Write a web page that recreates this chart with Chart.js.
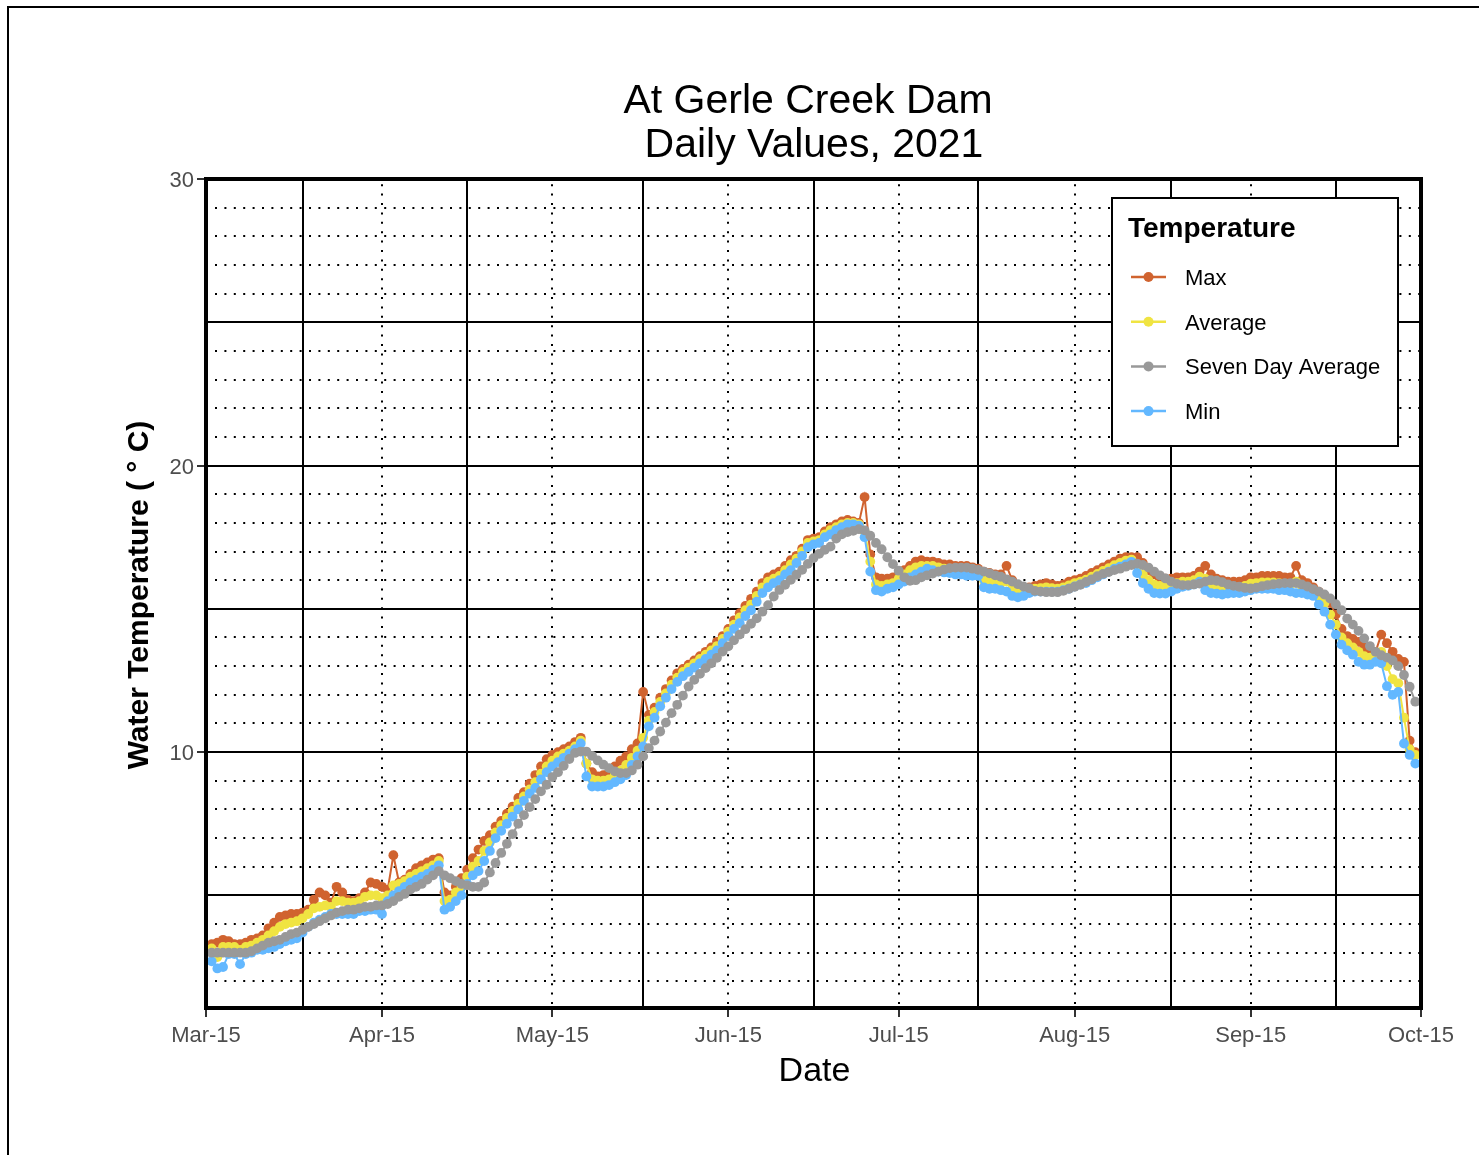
<!DOCTYPE html>
<html>
<head>
<meta charset="utf-8">
<title>At Gerle Creek Dam - Daily Values, 2021</title>
<script src="https://cdn.jsdelivr.net/npm/chart.js@4.4.1/dist/chart.umd.min.js"></script>
<style>
  html, body { margin: 0; padding: 0; background: #fff; }
  canvas { display: block; }
</style>
</head>
<body>
<canvas id="tempChart" width="1479" height="1155"></canvas>
<script>
// water temperature, one value per day, day 1 = 16 Mar 2021
const maxTemp = [
  3.3, 3.35, 3.45, 3.4, 3.3, 3.3, 3.35, 3.45, 3.5, 3.6,
  3.85, 4.05, 4.25, 4.3, 4.35, 4.35, 4.4, 4.5, 4.85, 5.1,
  5.0, 4.75, 5.3, 5.1, 4.85, 4.8, 4.9, 5.1, 5.45, 5.4,
  5.3, 5.2, 6.4, 5.45, 5.55, 5.75, 5.95, 6.05, 6.15, 6.25,
  6.3, 5.1, 5.0, 5.3, 5.6, 5.9, 6.3, 6.6, 6.9, 7.1,
  7.4, 7.6, 7.85, 8.1, 8.4, 8.6, 8.9, 9.2, 9.5, 9.75,
  9.9, 10.0, 10.1, 10.2, 10.35, 10.5, 9.6, 9.3, 9.15, 9.2,
  9.3, 9.5, 9.7, 9.85, 10.1, 10.3, 12.1, 11.3, 11.55, 11.9,
  12.2, 12.5, 12.75, 12.9, 13.05, 13.2, 13.35, 13.5, 13.65, 13.85,
  14.05, 14.3, 14.6, 14.85, 15.1, 15.35, 15.6, 15.9, 16.1, 16.2,
  16.3, 16.5, 16.7, 16.85, 17.1, 17.4, 17.45, 17.5, 17.7, 17.85,
  17.95, 18.05, 18.1, 18.05, 18.0, 18.9, 16.9, 16.1, 16.05, 16.05,
  16.1, 16.2, 16.35, 16.5, 16.65, 16.7, 16.65, 16.65, 16.6, 16.55,
  16.55, 16.5, 16.5, 16.5, 16.45, 16.4, 16.3, 16.25, 16.2, 16.2,
  16.5, 16.0, 15.8, 15.7, 15.75, 15.8, 15.85, 15.9, 15.85, 15.8,
  15.85, 15.95, 16.0, 16.05, 16.15, 16.25, 16.35, 16.45, 16.55, 16.65,
  16.75, 16.8, 16.8, 16.8, 16.6, 16.35, 16.2, 16.05, 16.05, 16.05,
  16.1, 16.1, 16.1, 16.15, 16.3, 16.5, 16.2, 16.05, 16.0, 15.95,
  15.95, 15.95, 16.0, 16.1, 16.1, 16.15, 16.15, 16.15, 16.15, 16.1,
  16.1, 16.5, 16.0, 15.9, 15.75, 15.6, 15.4, 15.2, 14.8, 14.3,
  14.05, 13.95, 13.85, 13.65, 13.55, 13.5, 14.1, 13.8, 13.5, 13.25,
  13.15, 10.4, 10.0
];

const avgTemp = [
  3.15, 2.85, 3.2, 3.2, 3.2, 3.1, 3.2, 3.25, 3.35, 3.45,
  3.6, 3.75, 3.9, 4.0, 4.05, 4.1, 4.2, 4.35, 4.55, 4.6,
  4.65, 4.6, 4.8, 4.8, 4.75, 4.75, 4.8, 4.95, 5.0, 5.0,
  4.9, 5.0, 5.35, 5.4, 5.5, 5.65, 5.75, 5.85, 5.95, 6.05,
  6.2, 4.8, 4.85, 5.1, 5.3, 5.65, 6.0, 6.2, 6.55, 6.85,
  7.2, 7.45, 7.7, 7.95, 8.2, 8.45, 8.7, 8.95, 9.25, 9.5,
  9.7, 9.85, 9.95, 10.05, 10.2, 10.4, 9.6, 9.05, 9.0, 9.0,
  9.05, 9.2, 9.35, 9.55, 9.8, 10.05, 10.5, 11.1, 11.4, 11.75,
  12.05, 12.35, 12.6, 12.8, 12.95, 13.1, 13.25, 13.4, 13.55, 13.7,
  13.95, 14.2, 14.45, 14.7, 14.95, 15.15, 15.45, 15.75, 15.95, 16.05,
  16.15, 16.35, 16.55, 16.75, 17.0, 17.3, 17.35, 17.4, 17.6, 17.75,
  17.85, 17.95, 18.0, 18.0, 17.95, 17.7, 16.65, 15.85, 15.8, 15.85,
  15.9, 16.05, 16.2, 16.35, 16.45, 16.5, 16.5, 16.5, 16.45, 16.4,
  16.4, 16.35, 16.35, 16.3, 16.3, 16.25, 16.0, 15.95, 15.9, 15.9,
  15.95, 15.7, 15.6, 15.6, 15.65, 15.7, 15.72, 15.75, 15.72, 15.7,
  15.75, 15.82, 15.9, 15.95, 16.02, 16.12, 16.22, 16.32, 16.42, 16.52,
  16.6, 16.68, 16.72, 16.55, 16.2, 16.0, 15.85, 15.8, 15.8, 15.83,
  15.9, 15.95, 15.95, 16.0, 16.12, 16.05, 15.85, 15.78, 15.72, 15.72,
  15.75, 15.75, 15.8, 15.88, 15.9, 15.92, 15.92, 15.92, 15.9, 15.88,
  15.85, 15.95, 15.8, 15.7, 15.6, 15.4, 15.2, 14.8, 14.45, 14.0,
  13.8, 13.65, 13.5, 13.35, 13.3, 13.3, 13.5, 13.0, 12.55, 12.4,
  11.2, 10.1, 9.9
];

const sevenDayAvg = [
  3.0, 3.0, 3.0, 3.0, 3.0, 3.0, 3.0, 3.05, 3.15, 3.25,
  3.35, 3.4, 3.45, 3.55, 3.65, 3.7, 3.8, 3.9, 4.0, 4.1,
  4.2, 4.3, 4.4, 4.45, 4.5, 4.5, 4.55, 4.6, 4.6, 4.65,
  4.65, 4.7, 4.8, 4.95, 5.05, 5.2, 5.3, 5.4, 5.55, 5.7,
  5.85, 5.7, 5.6, 5.5, 5.4, 5.35, 5.3, 5.3, 5.45, 5.8,
  6.13, 6.48, 6.8, 7.14, 7.5, 7.8, 8.08, 8.36, 8.63, 8.86,
  9.13, 9.3, 9.52, 9.76, 9.97, 10.02, 10.02, 9.87, 9.71, 9.56,
  9.44, 9.33, 9.27, 9.27, 9.36, 9.56, 9.85, 10.14, 10.4, 10.72,
  11.03, 11.36, 11.65, 11.97, 12.29, 12.52, 12.73, 12.93, 13.1, 13.29,
  13.51, 13.69, 13.9, 14.1, 14.29, 14.48, 14.67, 14.9, 15.13, 15.43,
  15.66, 15.84, 16.01, 16.19, 16.36, 16.57, 16.77, 16.92, 17.06, 17.17,
  17.45, 17.6, 17.68, 17.72, 17.78, 17.74, 17.55, 17.3, 17.08, 16.8,
  16.56, 16.33, 16.1, 15.98, 16.0, 16.1, 16.17, 16.23, 16.3, 16.37,
  16.42, 16.44, 16.44, 16.44, 16.4, 16.36, 16.3, 16.24, 16.17, 16.12,
  16.03, 15.95, 15.86, 15.78, 15.72, 15.63, 15.6, 15.58, 15.58, 15.58,
  15.63, 15.7, 15.77, 15.84, 15.94, 16.03, 16.14, 16.22, 16.28, 16.35,
  16.4, 16.47, 16.53, 16.58, 16.53, 16.44, 16.3, 16.17, 16.06, 15.95,
  15.87, 15.83, 15.83, 15.85, 15.88, 15.95, 16.0, 15.98, 15.93, 15.85,
  15.8, 15.77, 15.73, 15.71, 15.74, 15.79, 15.83, 15.86, 15.88, 15.9,
  15.9, 15.9, 15.85, 15.78, 15.69, 15.6, 15.5, 15.36, 15.16, 14.95,
  14.66, 14.45, 14.23, 13.97, 13.7, 13.5, 13.38, 13.3, 13.2, 13.0,
  12.69, 12.28, 11.76
];

const minTemp = [
  2.7, 2.45, 2.5, 2.95, 2.95, 2.6, 2.95, 3.0, 3.1, 3.1,
  3.15, 3.2, 3.3, 3.4, 3.45, 3.5, 3.7, 3.9, 4.05, 4.15,
  4.25, 4.35, 4.35, 4.35, 4.35, 4.35, 4.45, 4.45, 4.5, 4.5,
  4.35, 4.8, 5.0, 5.15, 5.3, 5.45, 5.55, 5.65, 5.75, 5.9,
  6.05, 4.5, 4.6, 4.8, 5.0, 5.4, 5.7, 5.85, 6.2, 6.55,
  7.0, 7.25, 7.5, 7.75, 8.0, 8.3, 8.55, 8.75, 9.05, 9.3,
  9.5, 9.65, 9.8, 9.95, 10.1, 10.3, 9.15, 8.8, 8.8, 8.8,
  8.85, 8.95, 9.05, 9.2, 9.55, 9.85, 10.2, 10.9, 11.2, 11.6,
  11.9, 12.2, 12.45, 12.65, 12.8, 12.95, 13.1, 13.25, 13.4, 13.55,
  13.8, 14.05, 14.3, 14.5, 14.75, 14.95, 15.25, 15.55, 15.75, 15.9,
  16.0, 16.2, 16.35, 16.6, 16.85, 17.15, 17.25, 17.3, 17.5, 17.6,
  17.75, 17.85, 17.95, 17.95, 17.9, 17.5, 16.3, 15.65, 15.6, 15.7,
  15.75, 15.85, 15.95, 16.1, 16.2, 16.3, 16.4, 16.35, 16.3, 16.27,
  16.25, 16.2, 16.2, 16.15, 16.15, 16.15, 15.75, 15.7, 15.7, 15.65,
  15.6, 15.45, 15.4, 15.45, 15.55, 15.6, 15.6, 15.6, 15.6, 15.6,
  15.65, 15.7, 15.78, 15.85, 15.9, 16.0, 16.1, 16.2, 16.3, 16.4,
  16.47, 16.55, 16.64, 16.25, 15.9, 15.7, 15.55, 15.53, 15.53, 15.6,
  15.7, 15.77, 15.8, 15.85, 15.95, 15.65, 15.55, 15.53, 15.5, 15.53,
  15.55, 15.55, 15.6, 15.65, 15.7, 15.7, 15.7, 15.7, 15.65, 15.65,
  15.6, 15.55, 15.55, 15.5, 15.45, 15.15, 14.9, 14.45, 14.1, 13.75,
  13.55, 13.4, 13.15, 13.05, 13.05, 13.15, 13.1, 12.3, 12.0, 12.1,
  10.3, 9.9, 9.6
];

// x axis: days after 15 Mar 2021
const xTickDays = [0, 31, 61, 92, 122, 153, 184, 214];
const xTickLabels = ['Mar-15', 'Apr-15', 'May-15', 'Jun-15', 'Jul-15', 'Aug-15', 'Sep-15', 'Oct-15'];
const xSolidDays = [17, 46, 77, 107, 136, 170, 199];
const yTickValues = [10, 20, 30];
const ySolidValues = [5, 10, 15, 20, 25];

const FONT = '"Liberation Sans", Arial, Helvetica, sans-serif';

function toPoints(arr) {
  return arr.map((v, i) => ({ x: i + 1, y: v }));
}

function series(label, arr, color, order) {
  return {
    label: label,
    data: toPoints(arr),
    borderColor: color,
    backgroundColor: color,
    pointBackgroundColor: color,
    pointBorderWidth: 0,
    pointRadius: 4.9,
    borderWidth: 2,
    tension: 0,
    order: order
  };
}

// grid, frame, labels, legend
const ggDecor = {
  id: 'ggDecor',
  beforeDatasetsDraw(chart) {
    const { ctx, chartArea: a, scales: { x, y } } = chart;
    ctx.save();
    ctx.strokeStyle = '#000';
    ctx.lineWidth = 2;
    ctx.lineCap = 'butt';

    // dotted lines, every degree and the labelled dates
    ctx.setLineDash([2, 7.4]);
    ctx.beginPath();
    for (let v = 2; v < 30; v++) {
      if (v % 5 === 0) continue;
      const py = Math.round(y.getPixelForValue(v));
      ctx.moveTo(a.left + 9, py);
      ctx.lineTo(a.right, py);
    }
    xTickDays.slice(1, -1).forEach(d => {
      const px = Math.round(x.getPixelForValue(d));
      ctx.moveTo(px, a.bottom - 4);
      ctx.lineTo(px, a.top);
    });
    ctx.stroke();

    // solid lines
    ctx.setLineDash([]);
    ctx.beginPath();
    ySolidValues.forEach(v => {
      const py = Math.round(y.getPixelForValue(v));
      ctx.moveTo(a.left, py);
      ctx.lineTo(a.right, py);
    });
    xSolidDays.forEach(d => {
      const px = Math.round(x.getPixelForValue(d));
      ctx.moveTo(px, a.top);
      ctx.lineTo(px, a.bottom);
    });
    ctx.stroke();
    ctx.restore();
  },
  afterDraw(chart) {
    const { ctx, chartArea: a, scales: { x, y } } = chart;
    ctx.save();

    // outer picture border (top and left only)
    ctx.strokeStyle = '#000';
    ctx.lineWidth = 2;
    ctx.beginPath();
    ctx.moveTo(8, chart.height + 5);
    ctx.lineTo(8, 7);
    ctx.lineTo(chart.width + 5, 7);
    ctx.stroke();

    // panel frame
    ctx.lineWidth = 4;
    ctx.strokeRect(a.left, a.top, a.right - a.left, a.bottom - a.top);

    // tick marks
    ctx.strokeStyle = '#333';
    ctx.lineWidth = 2;
    ctx.beginPath();
    xTickDays.forEach(d => {
      const px = Math.round(x.getPixelForValue(d));
      ctx.moveTo(px, a.bottom + 2);
      ctx.lineTo(px, a.bottom + 9);
    });
    yTickValues.forEach(v => {
      const py = Math.round(y.getPixelForValue(v));
      ctx.moveTo(a.left - 2, py);
      ctx.lineTo(a.left - 9, py);
    });
    ctx.stroke();

    // tick labels
    ctx.fillStyle = '#4D4D4D';
    ctx.font = '22px ' + FONT;
    ctx.textBaseline = 'alphabetic';
    ctx.textAlign = 'center';
    xTickDays.forEach((d, i) => {
      ctx.fillText(xTickLabels[i], x.getPixelForValue(d), a.bottom + 34);
    });
    ctx.textAlign = 'right';
    yTickValues.forEach(v => {
      ctx.fillText(String(v), a.left - 12, y.getPixelForValue(v) + 8);
    });

    // axis titles
    ctx.fillStyle = '#000';
    ctx.textAlign = 'center';
    ctx.font = '34px ' + FONT;
    ctx.fillText('Date', (a.left + a.right) / 2 + 1, a.bottom + 73);

    ctx.save();
    ctx.translate(148, 595);
    ctx.rotate(-Math.PI / 2);
    ctx.font = 'bold 30px ' + FONT;
    ctx.fillText('Water Temperature ( \u00B0 C)', 0, 0);
    ctx.restore();

    // title
    ctx.font = '41px ' + FONT;
    ctx.fillText('At Gerle Creek Dam', 808, 113);
    ctx.fillText('Daily Values, 2021', 814, 157);

    // legend
    const lx = 1112, ly = 198, lw = 286, lh = 248;
    ctx.fillStyle = '#fff';
    ctx.fillRect(lx, ly, lw, lh);
    ctx.strokeStyle = '#000';
    ctx.lineWidth = 2;
    ctx.strokeRect(lx, ly, lw, lh);
    ctx.fillStyle = '#000';
    ctx.textAlign = 'left';
    ctx.font = 'bold 28px ' + FONT;
    ctx.fillText('Temperature', lx + 16, ly + 39);

    ctx.font = '22px ' + FONT;
    chart.data.datasets.forEach((ds, i) => {
      const cy = ly + 79 + i * 44.7;
      ctx.strokeStyle = ds.borderColor;
      ctx.lineWidth = 2.5;
      ctx.beginPath();
      ctx.moveTo(lx + 19, cy);
      ctx.lineTo(lx + 54, cy);
      ctx.stroke();
      ctx.fillStyle = ds.borderColor;
      ctx.beginPath();
      ctx.arc(lx + 36.5, cy, 5, 0, Math.PI * 2);
      ctx.fill();
      ctx.fillStyle = '#000';
      ctx.fillText(ds.label, lx + 73, cy + 8);
    });

    ctx.restore();
  }
};

const tempChart = new Chart(document.getElementById('tempChart'), {
  type: 'line',
  data: {
    datasets: [
      series('Max', maxTemp, '#D0632F', 3),
      series('Average', avgTemp, '#F0E442', 2),
      series('Seven Day Average', sevenDayAvg, '#999999', 0),
      series('Min', minTemp, '#63B8FF', 1)
    ]
  },
  options: {
    responsive: false,
    devicePixelRatio: 1,
    animation: false,
    layout: { padding: { left: 206, top: 179, right: 58, bottom: 147 } },
    plugins: {
      legend: { display: false },
      title: { display: false },
      tooltip: { enabled: false }
    },
    scales: {
      x: { type: 'linear', min: 0, max: 214, display: false },
      y: { type: 'linear', min: 1.07, max: 30, display: false }
    }
  },
  plugins: [ggDecor]
});
</script>
</body>
</html>
